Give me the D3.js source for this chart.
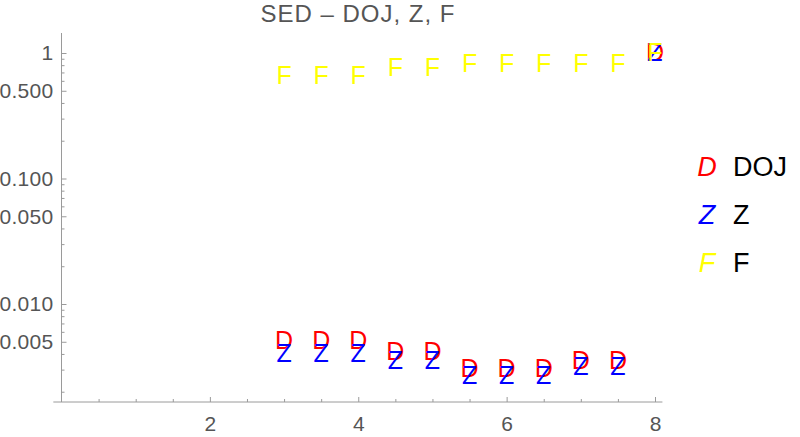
<!DOCTYPE html>
<html><head><meta charset="utf-8">
<script src="https://cdn.jsdelivr.net/npm/d3@7"></script>
<style>
body{margin:0;background:#fff;}
svg{display:block;}
</style></head>
<body>
<svg id="chart" width="800" height="437"></svg>
<script>
const title = "SED \u2013 DOJ, Z, F";
const xVals = [3, 3.5, 4, 4.5, 5, 5.5, 6, 6.5, 7, 7.5, 8];
const dojVals = [0.00505, 0.00505, 0.00505, 0.00407, 0.00407, 0.00301, 0.00301, 0.00301, 0.00346, 0.00346, 1];
const zVals = [0.00397, 0.00397, 0.00397, 0.00349, 0.00349, 0.00263, 0.00263, 0.00263, 0.00312, 0.00312, 1];
const fVals = [0.646, 0.646, 0.646, 0.755, 0.755, 0.813, 0.813, 0.813, 0.813, 0.813, 1];
const seriesNames = ["DOJ", "Z", "F"];
const seriesMarkers = ["D", "Z", "F"];
const seriesColors = ["#ff0000", "#0000ff", "#ffff00"];
const xTickLabels = [2, 4, 6, 8];
const xMinorTicks = [0.5, 1, 1.5, 2.5, 3, 3.5, 4.5, 5, 5.5, 6.5, 7, 7.5];
const yTickLabels = [1, 0.5, 0.1, 0.05, 0.01, 0.005];
const yTickText = ["1", "0.500", "0.100", "0.050", "0.010", "0.005"];
const yMinorTicks = [0.002, 0.003, 0.004, 0.006, 0.007, 0.008, 0.009, 0.02, 0.03, 0.04, 0.06, 0.07, 0.08, 0.09, 0.2, 0.3, 0.4, 0.6, 0.7, 0.8, 0.9];

const series = [dojVals, zVals, fVals];
const svg = d3.select("#chart");
const font = "'Liberation Sans', Arial, Helvetica, sans-serif";
const axisColor = "#9a9a9a";
const labelColor = "#555555";

const x = d3.scaleLinear().domain([0, 8]).range([61.5, 655]);
const y = d3.scaleLog().domain([0.01, 1]).range([304, 53]);
const yBottom = 402;
const yTop = 33;

// X axis
const gx = svg.append("g").attr("transform", `translate(0,${yBottom})`);
gx.append("line").attr("x1", x(-0.11)).attr("x2", x(8.1)).attr("y1", 0).attr("y2", 0)
  .attr("stroke", axisColor).attr("stroke-width", 1);
gx.append("g").call(d3.axisBottom(x).tickValues(xMinorTicks).tickSize(-3).tickFormat(""))
  .call(g => g.select(".domain").remove())
  .call(g => g.selectAll("line").attr("stroke", axisColor));
gx.append("g").call(d3.axisBottom(x).tickValues(xTickLabels).tickSize(-5).tickPadding(14).tickFormat(d3.format("d")))
  .call(g => g.select(".domain").remove())
  .call(g => g.selectAll("line").attr("stroke", axisColor))
  .call(g => g.selectAll("text").attr("fill", labelColor).style("font-family", font).style("font-size", "21px"));

// Y axis
const gy = svg.append("g").attr("transform", `translate(${x(0)},0)`);
gy.append("line").attr("x1", 0).attr("x2", 0).attr("y1", yTop).attr("y2", yBottom)
  .attr("stroke", axisColor).attr("stroke-width", 1);
gy.append("g").call(d3.axisLeft(y).tickValues(yMinorTicks).tickSize(-3).tickFormat(""))
  .call(g => g.select(".domain").remove())
  .call(g => g.selectAll("line").attr("stroke", axisColor));
gy.append("g").call(d3.axisLeft(y).tickValues(yTickLabels).tickSize(-5).tickPadding(8)
    .tickFormat((d, i) => yTickText[i]))
  .call(g => g.select(".domain").remove())
  .call(g => g.selectAll("line").attr("stroke", axisColor))
  .call(g => g.selectAll("text").attr("fill", labelColor).style("font-family", font)
    .style("font-size", "21px").style("letter-spacing", "0.3px"));

// Title
svg.append("text").attr("x", 358).attr("y", 22).attr("text-anchor", "middle")
  .attr("fill", labelColor).style("font-family", font).style("font-size", "24px")
  .style("letter-spacing", "1px").text(title);

// Markers
series.forEach((vals, si) => {
  svg.append("g").selectAll("text").data(xVals.map((xv, i) => ({xv, v: vals[i]})))
    .join("text")
    .attr("x", d => x(d.xv)).attr("y", d => y(d.v)).attr("dy", "0.3em")
    .attr("text-anchor", "middle")
    .attr("fill", seriesColors[si])
    .style("font-family", font).style("font-size", "25px")
    .text(seriesMarkers[si]);
});

// Legend
const leg = svg.append("g");
seriesNames.forEach((name, i) => {
  const ly = 167 + i * 48;
  leg.append("text").attr("x", 707).attr("y", ly).attr("dy", "0.35em").attr("text-anchor", "middle")
    .attr("fill", seriesColors[i]).style("font-family", font).style("font-size", "27px")
    .style("font-style", "italic").text(seriesMarkers[i]);
  leg.append("text").attr("x", 733).attr("y", ly).attr("dy", "0.35em")
    .attr("fill", "#000").style("font-family", font).style("font-size", "27px").text(name);
});
</script>
</body></html>
